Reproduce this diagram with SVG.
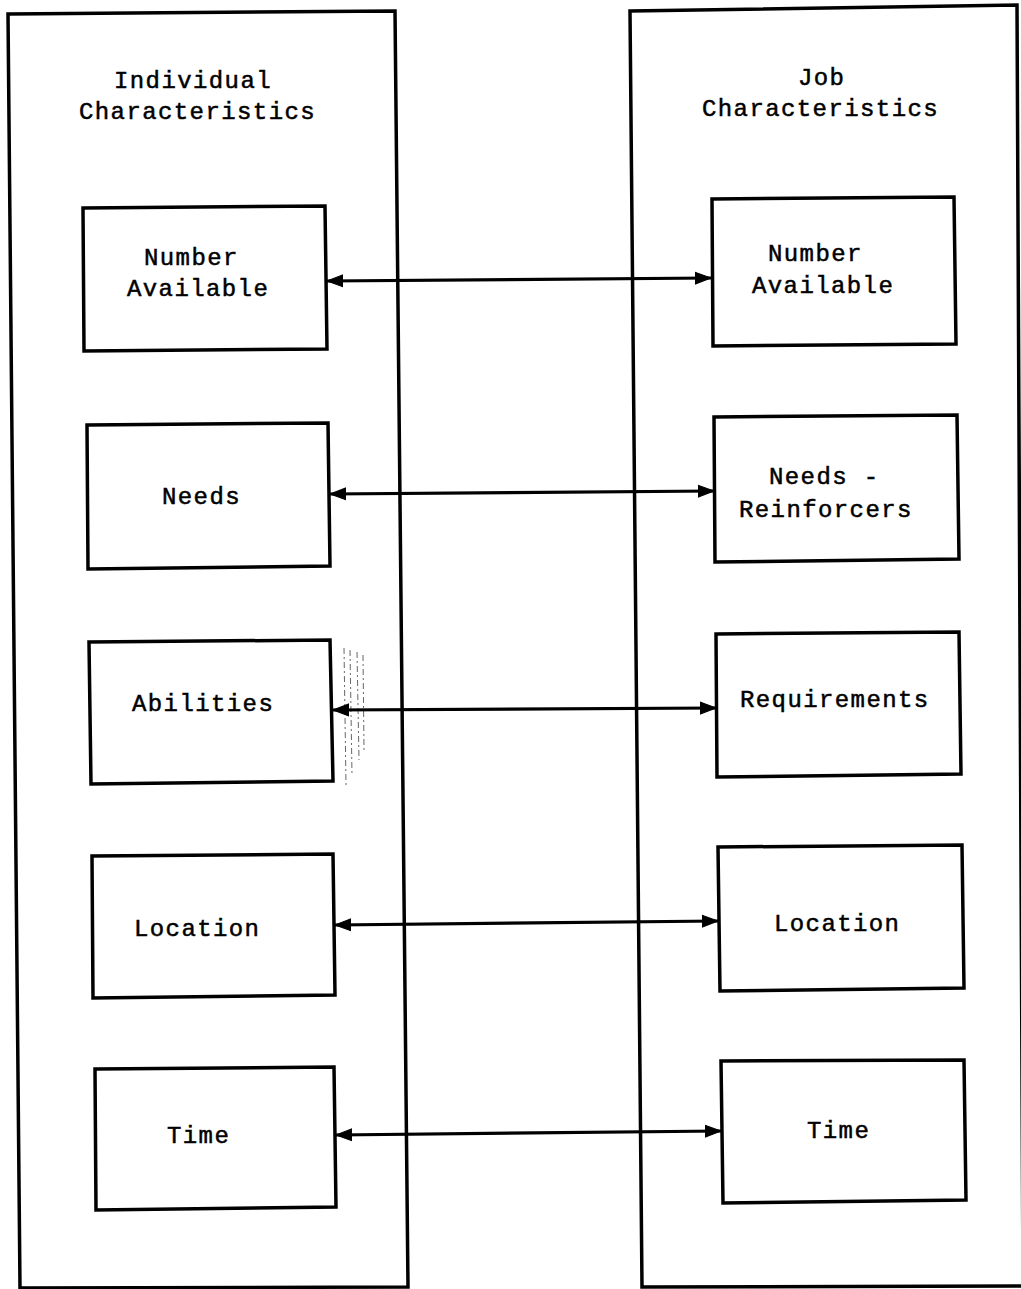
<svg xmlns="http://www.w3.org/2000/svg" width="1021" height="1289" viewBox="0 0 1021 1289">
  <style>
    .frame { fill: none; stroke: #000; stroke-width: 3.5; stroke-linejoin: miter; }
    .box { fill: #fff; stroke: #000; stroke-width: 3.5; }
    .lbl { font-family: "Liberation Mono", "DejaVu Sans Mono", monospace; font-size: 24px; letter-spacing: 1.4px; fill: #000; stroke: #000; stroke-width: 0.5; }
    .link { fill: none; stroke: #000; stroke-width: 3.2; marker-start: url(#head); marker-end: url(#head); }
    .scratch { fill: none; stroke: #000; stroke-width: 1; stroke-dasharray: 6 3 2 3; opacity: 0.6; }
  </style>
  <defs>
    <marker id="head" markerUnits="userSpaceOnUse" markerWidth="20" markerHeight="14" refX="16" refY="7" orient="auto-start-reverse">
      <path d="M0,1 L16,7 L0,13 Z" fill="#000" stroke="#000" stroke-width="1"/>
    </marker>
  </defs>

  <rect width="1021" height="1289" fill="#fff"/>

  <!-- column frames -->
  <g id="col-individual">
    <path class="frame" d="M8,14 L395,11 L408,1287 L20,1288 Z"/>
    <text class="lbl" x="114" y="88">Individual</text>
    <text class="lbl" x="79" y="119">Characteristics</text>
  </g>
  <g id="col-job">
    <path class="frame" d="M630,11 L1017,5 L1023,1286 L642,1287 Z"/>
    <text class="lbl" x="798" y="85">Job</text>
    <text class="lbl" x="702" y="116">Characteristics</text>
  </g>

  <!-- connectors -->
  <g id="connectors">
    <path class="link" d="M327,281 L711,278"/>
    <path class="link" d="M330,494 L714,491"/>
    <path class="link" d="M333,710 L716,708"/>
    <path class="link" d="M335,925 L718,921"/>
    <path class="link" d="M336,1135 L721,1131"/>
  </g>

  <!-- faint marks beside Abilities -->
  <g id="marks">
    <path class="scratch" d="M344,648 L346,785"/>
    <path class="scratch" d="M350,650 L352,775"/>
    <path class="scratch" d="M357,652 L359,760"/>
    <path class="scratch" d="M363,655 L364,750"/>
  </g>

  <!-- individual side -->
  <g id="ind-number">
    <path class="box" d="M83,208 L325,206 L327,349 L84,351 Z"/>
    <text class="lbl" x="144" y="265">Number</text>
    <text class="lbl" x="127" y="296">Available</text>
  </g>
  <g id="ind-needs">
    <path class="box" d="M87,425 L328,423 L330,566 L88,569 Z"/>
    <text class="lbl" x="162" y="504">Needs</text>
  </g>
  <g id="ind-abilities">
    <path class="box" d="M89,642 L330,640 L333,781 L91,784 Z"/>
    <text class="lbl" x="132" y="711">Abilities</text>
  </g>
  <g id="ind-location">
    <path class="box" d="M92,856 L333,854 L335,995 L93,998 Z"/>
    <text class="lbl" x="134" y="936">Location</text>
  </g>
  <g id="ind-time">
    <path class="box" d="M95,1069 L334,1067 L336,1207 L96,1210 Z"/>
    <text class="lbl" x="167" y="1143">Time</text>
  </g>

  <!-- job side -->
  <g id="job-number">
    <path class="box" d="M712,199 L954,197 L956,344 L713,346 Z"/>
    <text class="lbl" x="768" y="261">Number</text>
    <text class="lbl" x="752" y="293">Available</text>
  </g>
  <g id="job-needs">
    <path class="box" d="M714,417 L957,415 L959,559 L715,562 Z"/>
    <text class="lbl" x="769" y="484">Needs -</text>
    <text class="lbl" x="739" y="517">Reinforcers</text>
  </g>
  <g id="job-requirements">
    <path class="box" d="M716,634 L959,632 L961,774 L717,777 Z"/>
    <text class="lbl" x="740" y="707">Requirements</text>
  </g>
  <g id="job-location">
    <path class="box" d="M718,847 L962,845 L964,988 L720,991 Z"/>
    <text class="lbl" x="774" y="931">Location</text>
  </g>
  <g id="job-time">
    <path class="box" d="M721,1061 L964,1060 L966,1200 L723,1203 Z"/>
    <text class="lbl" x="807" y="1138">Time</text>
  </g>
</svg>
